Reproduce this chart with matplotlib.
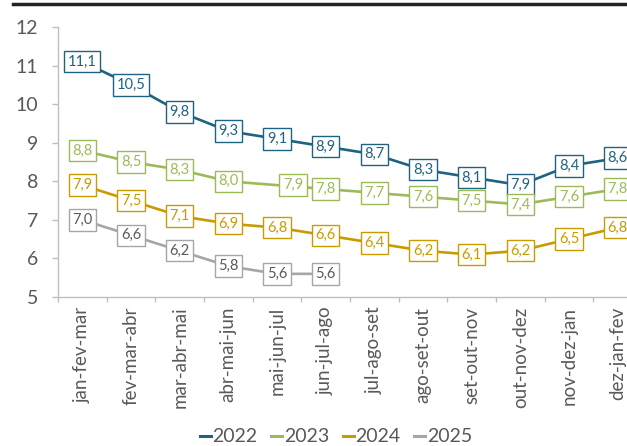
import matplotlib.pyplot as plt
from matplotlib.lines import Line2D

plt.rcParams['font.family'] = ['Lato', 'DejaVu Sans']

categorias = ['jan-fev-mar', 'fev-mar-abr', 'mar-abr-mai', 'abr-mai-jun', 'mai-jun-jul',
              'jun-jul-ago', 'jul-ago-set', 'ago-set-out', 'set-out-nov', 'out-nov-dez',
              'nov-dez-jan', 'dez-jan-fev']

v2022 = [11.1, 10.5, 9.8, 9.3, 9.1, 8.9, 8.7, 8.3, 8.1, 7.9, 8.4, 8.6]
v2023 = [8.8, 8.5, 8.3, 8.0, 7.9, 7.8, 7.7, 7.6, 7.5, 7.4, 7.6, 7.8]
v2024 = [7.9, 7.5, 7.1, 6.9, 6.8, 6.6, 6.4, 6.2, 6.1, 6.2, 6.5, 6.8]
v2025 = [7.0, 6.6, 6.2, 5.8, 5.6, 5.6]

series = [('2022', v2022, '#1f6382', '#1f6382'),
          ('2023', v2023, '#9bbb59', '#9bbb59'),
          ('2024', v2024, '#c89b00', '#c89b00'),
          ('2025', v2025, '#a6a6a6', '#595959')]

fig = plt.figure(figsize=(6.27, 4.46), dpi=100)
ax = fig.add_axes([58 / 627, 149 / 446, 584 / 627, 270 / 446])

for nome, vals, cor, cor_txt in series:
    xs = list(range(len(vals)))
    ax.plot(xs, vals, color=cor, lw=1.9, label=nome, solid_capstyle='butt', zorder=2)
    for i, v in enumerate(vals):
        dx = 0
        if nome == '2023' and i == 4:
            dx = 0.33
        ax.text(i + dx, v, f'{v:.1f}'.replace('.', ','), ha='center', va='center',
                fontsize=10.5, color=cor_txt, zorder=3,
                bbox=dict(boxstyle='square,pad=0.25', fc='white', ec=cor, lw=1.0))

ax.set_xlim(-0.5, 11.5)
ax.set_ylim(5, 12)
ax.set_yticks(range(5, 13))
ax.set_xticks(range(12))
ax.set_xticklabels(categorias, rotation=90, fontsize=13.5, color='#595959')
ax.set_xticks([i - 0.5 for i in range(13)], minor=True)
ax.tick_params(axis='x', which='major', length=0, pad=7)
ax.tick_params(axis='x', which='minor', length=3.6, color='#bfbfbf', width=1)
ax.tick_params(axis='y', length=4.3, color='#bfbfbf', width=1, labelsize=14,
               labelcolor='#595959', pad=10)

for s in ['top', 'right']:
    ax.spines[s].set_visible(False)
for s in ['left', 'bottom']:
    ax.spines[s].set_color('#bfbfbf')
    ax.spines[s].set_linewidth(1)

handles = [Line2D([0], [0], color=c, lw=2.2) for _, _, c, _ in series]
fig.legend(handles, [n for n, _, _, _ in series], loc='center', bbox_to_anchor=(336 / 627, 9 / 446),
           ncol=4, frameon=False, fontsize=14, handlelength=0.55, handletextpad=0.1,
           columnspacing=0.7, labelcolor='#595959')

fig.add_artist(Line2D([13 / 627, 1], [1 - 4 / 446, 1 - 4 / 446], color='#222222', lw=2.5))

fig.savefig('out.png', dpi=100)
